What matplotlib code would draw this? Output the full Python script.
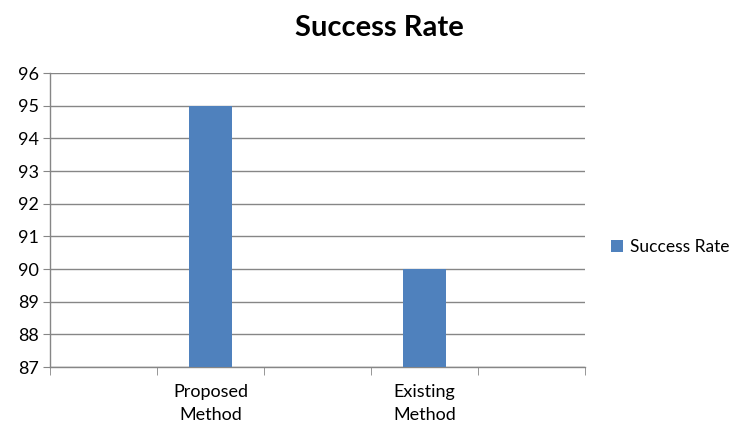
import numpy as np
import matplotlib.pyplot as plt

plt.rcParams['font.family'] = ['Lato', 'DejaVu Sans']

# 5 category slots on the axis, only two carry data
categories = ['', 'Proposed\nMethod', '', 'Existing\nMethod', '']
values = [np.nan, 95, np.nan, 90, np.nan]
series_name = 'Success Rate'
yticks = list(range(87, 97))

fig = plt.figure(figsize=(7.44, 4.29), dpi=100)
ax = fig.add_axes([0.0672, 0.1445, 0.7195, 0.6853])

x = np.arange(len(categories))
ax.bar(x, np.nan_to_num(values, nan=87) - 87, bottom=87, width=0.4,
       color='#4F81BD', label=series_name, zorder=3)

ax.set_xlim(-0.5, len(categories) - 0.5)
ax.set_ylim(87, 96)
ax.set_yticks(yticks)
ax.tick_params(axis='y', labelsize=13, length=5, color='#868686', pad=3)
ax.grid(axis='y', color='#868686', linewidth=1, zorder=0)

ax.set_xticks(x)
ax.set_xticklabels(categories, fontsize=13, linespacing=1.6)
ax.tick_params(axis='x', length=0, pad=12)
ax.set_xticks(np.arange(-0.5, len(categories)), minor=True)
ax.tick_params(axis='x', which='minor', length=6, color='#868686')

for s in ['top', 'right']:
    ax.spines[s].set_visible(False)
for s in ['left', 'bottom']:
    ax.spines[s].set_color('#868686')
    ax.spines[s].set_linewidth(1)

fig.text(0.51, 0.935, 'Success Rate', ha='center', va='center',
         fontsize=21, fontweight='bold')
fig.legend(loc='center left', bbox_to_anchor=(0.8, 0.425), frameon=False,
           fontsize=12.5, handlelength=0.7, handleheight=0.7, handletextpad=0.4)

fig.savefig('out.png', dpi=100)
